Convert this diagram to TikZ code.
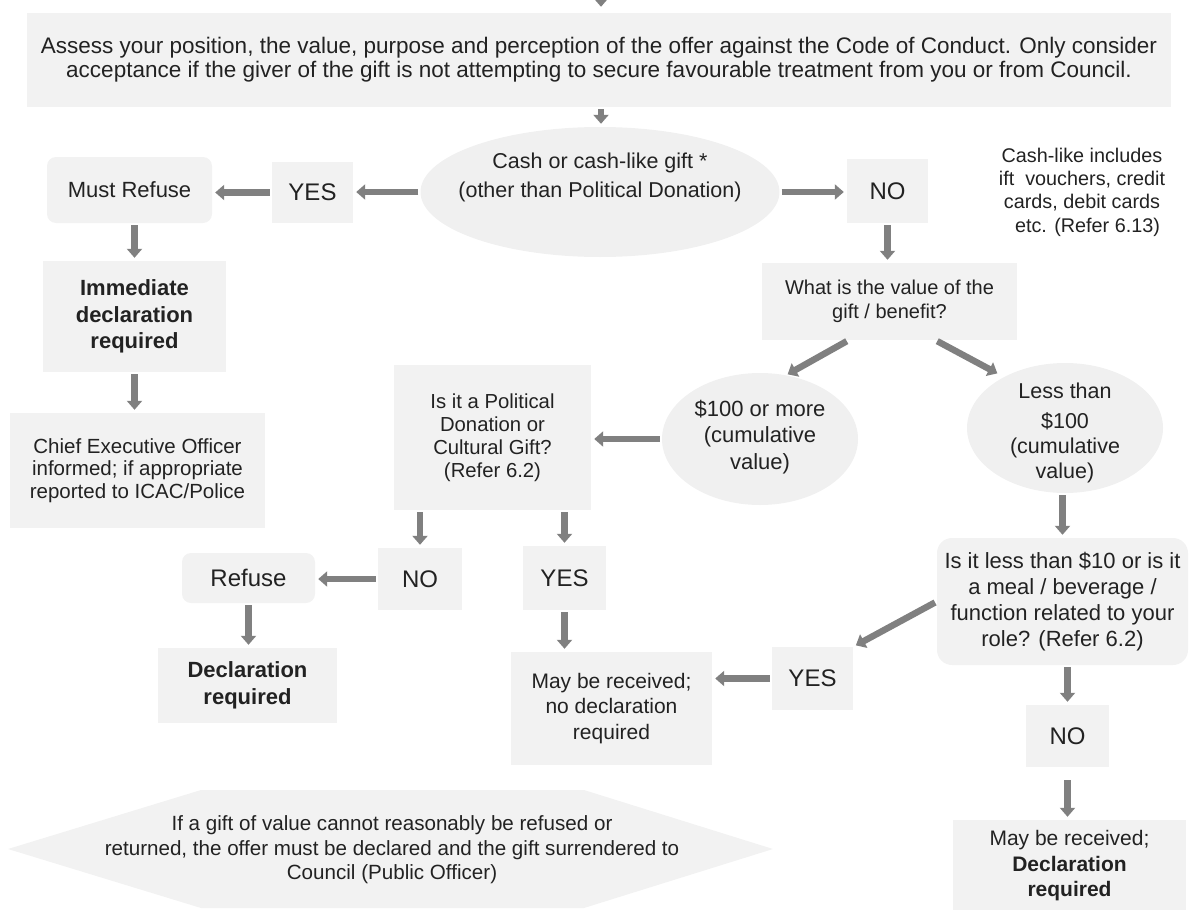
\documentclass[tikz,border=0pt]{standalone}
\usepackage{fontspec}
\setmainfont{Liberation Sans}
\usetikzlibrary{arrows.meta,calc,shapes.geometric}
\definecolor{boxgray}{RGB}{242,242,242}
\definecolor{ovalgray}{RGB}{240,240,240}
\definecolor{arrgray}{RGB}{128,128,128}
\definecolor{txtc}{RGB}{34,34,34}
\tikzset{
  box/.style={rectangle, fill=boxgray, inner sep=0pt, align=center, text=txtc},
  rbox/.style={box, rounded corners=9pt},
  oval/.style={ellipse, fill=ovalgray, inner sep=0pt},
  txt/.style={align=center, text=txtc, inner sep=0pt},
  arr/.style={draw=arrgray, line width=6.5pt, -{Triangle[width=15pt,length=9pt]}, shorten <=2pt, shorten >=3pt},
  fA/.style={font=\fontsize{20.3}{23}\selectfont},
  fB/.style={font=\fontsize{22}{26}\selectfont},
  fL/.style={font=\fontsize{24}{28}\selectfont},
  fX/.style={font=\fontsize{22}{26.5}\bfseries\selectfont},
}
\begin{document}
\begin{tikzpicture}[x=1pt,y=-1pt]
\useasboundingbox (0,0) rectangle (1189,910);

% top box
\node[box, font=\fontsize{22.5}{24}\selectfont, minimum width=1144pt, minimum height=94pt] (top) at (599,60)
  {Assess your position, the value, purpose and perception of the offer against the Code of Conduct. Only consider\\
   acceptance if the giver of the gift is not attempting to secure favourable treatment from you or from Council.};
\coordinate (topin) at (601,-8);

% cash ellipse
\node[oval, minimum width=359pt, minimum height=130pt] (cash) at (600,192) {};
\node[txt, font=\fontsize{21.5}{29}\selectfont] (cashtxt) at (600,177.5)
  {Cash or cash-like gift *\\(other than Political Donation)};

% left column
\node[box, fL, minimum width=81pt, minimum height=61pt] (yes1) at (312.5,192.5) {YES};
\node[rbox, fB, minimum width=165pt, minimum height=66pt] (mustref) at (129.5,190) {Must Refuse};
\node[box, fX, minimum width=183pt, minimum height=111pt] (immed) at (134.5,316.5)
  {Immediate\\declaration\\required};
\node[box, font=\fontsize{20.5}{22.5}\selectfont, minimum width=255pt, minimum height=115pt] (chief) at (137.5,470.5)
  {Chief Executive Officer\\informed; if appropriate\\reported to ICAC/Police};

% right of cash
\node[box, fL, minimum width=81pt, minimum height=64pt] (no1) at (887.5,191) {NO};
\node[txt, font=\fontsize{19.8}{23.3}\selectfont] (note) at (1082,192)
  {Cash-like includes\\ift\ \ vouchers, credit\\cards, debit cards\ \\\ \ etc. (Refer 6.13)};
\node[box, font=\fontsize{20}{24}\selectfont, minimum width=255pt, minimum height=77pt] (value) at (889.5,301.5)
  {What is the value of the\\gift / benefit?};

% ellipses
\node[oval, minimum width=196pt, minimum height=132pt] (big) at (760,439) {};
\node[txt, font=\fontsize{22}{26.5}\selectfont] (bigtxt) at (760,437)
  {\$100 or more\\(cumulative\\value)};
\node[oval, minimum width=196pt, minimum height=130pt] (less) at (1065,428) {};
\node[txt, font=\fontsize{21.5}{25}\selectfont] (lesstxt) at (1065,433)
  {Less than\\[5pt]\$100\\(cumulative\\value)};

% political branch
\node[box, fA, minimum width=197pt, minimum height=145pt] (polit) at (492.5,437.5)
  {Is it a Political\\Donation or\\Cultural Gift?\\(Refer 6.2)};
\node[box, fL, minimum width=84pt, minimum height=62pt] (no2) at (420,579) {NO};
\node[box, fL, minimum width=83pt, minimum height=64pt] (yes2) at (564.5,578) {YES};
\node[rbox, fL, minimum width=133pt, minimum height=50pt] (refuse) at (248.5,578) {Refuse};
\node[box, fX, minimum width=179pt, minimum height=75pt] (decl) at (247.5,685.5)
  {Declaration\\required};
\node[box, font=\fontsize{21}{25.5}\selectfont, minimum width=201pt, minimum height=113pt] (maybe1) at (611.5,708.5)
  {May be received;\\no declaration\\required};

% less than branch
\node[rbox, rounded corners=15pt, font=\fontsize{22}{26}\selectfont, minimum width=251pt, minimum height=127pt] (less10) at (1062.5,601.5)
  {Is it less than \$10 or is it\\a meal / beverage /\\function related to your\\role? (Refer 6.2)};
\node[box, fL, minimum width=81pt, minimum height=63pt] (yes3) at (812.5,678.5) {YES};
\node[box, fL, minimum width=83pt, minimum height=62pt] (no3) at (1067.5,736) {NO};
\node[box, font=\fontsize{21}{25.5}\selectfont, minimum width=233pt, minimum height=92pt] (maybe2) at (1069.5,866)
  {May be received;\\\textbf{Declaration}\\\textbf{required}};

% hexagon
\fill[boxgray] (8,849) -- (201,790) -- (584,790) -- (773,849) -- (584,908) -- (201,908) -- cycle;
\node[txt, font=\fontsize{20.6}{24.5}\selectfont] (hextxt) at (392,850)
  {If a gift of value cannot reasonably be refused or\\returned, the offer must be declared and the gift surrendered to\\Council (Public Officer)};

% connectors
\draw[arr, shorten >=6pt] (topin) -- (top.north -| topin);
\draw[arr] (top.south -| topin) -- (cash.north -| topin);
\draw[arr] (cash.west) -- (cash.west -| yes1.east);
\draw[arr] (yes1.west) -- (yes1.west -| mustref.east);
\draw[arr] (cash.east) -- (cash.east -| no1.west);
\draw[arr] (no1.south) -- (no1.south |- value.north);
\draw[arr] (immed.north |- mustref.south) -- (immed.north);
\draw[arr] (immed.south) -- (immed.south |- chief.north);
\draw[arr] ($(value.south)+(-41,0)$) -- ($(big.north)+(25,3)$);
\draw[arr] ($(value.south)+(46,0)$) -- ($(less.north)+(-65,12)$);
\draw[arr] (big.west) -- (big.west -| polit.east);
\draw[arr] (polit.south -| no2.north) -- (no2.north);
\draw[arr] (polit.south -| yes2.north) -- (yes2.north);
\draw[arr] (no2.west) -- (no2.west -| refuse.east);
\draw[arr] (refuse.south) -- (refuse.south |- decl.north);
\draw[arr] (yes2.south) -- (yes2.south |- maybe1.north);
\draw[arr] (less.south -| less10.north) -- (less10.north);
\draw[arr] (less10.west) -- (yes3.north east);
\draw[arr] (yes3.west) -- (yes3.west -| maybe1.east);
\draw[arr] (less10.south -| no3.north) -- (no3.north);
\draw[arr, shorten <=13pt] (no3.south) -- (no3.south |- maybe2.north);
\end{tikzpicture}
\end{document}
